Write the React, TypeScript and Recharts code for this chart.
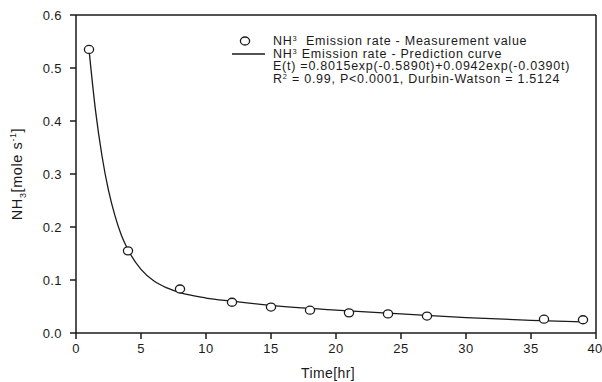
import {
  ComposedChart,
  Line,
  Scatter,
  XAxis,
  YAxis,
  ReferenceLine,
} from "recharts";

// measured emission rate (hr, mole/s)
const measTime = [1, 4, 8, 12, 15, 18, 21, 24, 27, 36, 39];
const measValue = [0.535, 0.155, 0.083, 0.058, 0.049, 0.043, 0.038, 0.036, 0.032, 0.026, 0.025];

// prediction curve
const curveTime = [1, 1.5, 2, 2.5, 3, 3.5, 4, 5, 6, 7, 8, 10, 12, 15, 20, 25, 30, 35, 39];
const curveValue = [
  0.535, 0.42, 0.334, 0.269, 0.221, 0.184, 0.157, 0.12, 0.098, 0.085, 0.076, 0.066, 0.06,
  0.052, 0.043, 0.036, 0.029, 0.024, 0.021,
];

const xTicks = [0, 5, 10, 15, 20, 25, 30, 35, 40];
const yTicks = [0, 0.1, 0.2, 0.3, 0.4, 0.5, 0.6];

const measData = measTime.map((t, i) => ({ t, e: measValue[i] }));
const curveData = curveTime.map((t, i) => ({ t, e: curveValue[i] }));

const FONT = "'Liberation Sans', Arial, sans-serif";
const INK = "#1a1a1a";

const OpenCircle = (props: any) => {
  const { cx, cy } = props;
  if (cx == null || cy == null) return null;
  return <ellipse cx={cx} cy={cy} rx={4.6} ry={4} fill="#fff" stroke={INK} strokeWidth={1.3} />;
};

const sup = { fontSize: 7.5, verticalAlign: "4px", lineHeight: 0 } as const;

// legend is plain html over the plot, no box around it
const LegendBox = () => (
  <div
    style={{
      position: "absolute",
      left: 229,
      top: 35,
      fontFamily: FONT,
      fontSize: 12.5,
      color: INK,
      lineHeight: "12.6px",
      letterSpacing: 0.75,
      whiteSpace: "pre",
    }}
  >
    <div style={{ display: "flex", alignItems: "center", height: 12.6 }}>
      <svg width={44} height={12}>
        <ellipse cx={16} cy={6} rx={4.6} ry={4} fill="#fff" stroke={INK} strokeWidth={1.3} />
      </svg>
      <span>
        NH<sup style={sup}>3</sup>  Emission rate - Measurement value
      </span>
    </div>
    <div style={{ display: "flex", alignItems: "center", height: 12.6 }}>
      <svg width={44} height={12}>
        <line x1={3} y1={6} x2={36} y2={6} stroke={INK} strokeWidth={1.3} />
      </svg>
      <span>
        NH<sup style={sup}>3</sup> Emission rate - Prediction curve
      </span>
    </div>
    <div style={{ paddingLeft: 44 }}>E(t) =0.8015exp(-0.5890t)+0.0942exp(-0.0390t)</div>
    <div style={{ paddingLeft: 44, marginTop: 0.6 }}>
      R<sup style={sup}>2</sup> = 0.99, P&lt;0.0001, Durbin-Watson = 1.5124
    </div>
  </div>
);

const YTitle = () => (
  <text
    transform="translate(22, 174) rotate(-90)"
    textAnchor="middle"
    fontFamily={FONT}
    fontSize={14.5}
    letterSpacing={0.6}
    fill={INK}
  >
    NH
    <tspan fontSize={9} dy={4}>3</tspan>
    <tspan dy={-4}>[mole s</tspan>
    <tspan fontSize={9} dy={-6}>-1</tspan>
    <tspan dy={6}>]</tspan>
  </text>
);

export default function App() {
  return (
    <div style={{ position: "absolute", left: 0, top: 0, width: 602, height: 382, background: "#fff" }}>
      <ComposedChart
        width={602}
        height={382}
        margin={{ top: 15, right: 6, bottom: 0, left: 0 }}
      >
        <XAxis
          dataKey="t"
          type="number"
          domain={[0, 40]}
          ticks={xTicks}
          allowDataOverflow
          height={49}
          stroke={INK}
          strokeWidth={1.5}
          tickSize={6}
          tickMargin={5}
          tick={{ fill: INK, fontSize: 13, fontFamily: FONT, letterSpacing: 0.4 }}
          label={{
            value: "Time[hr]",
            position: "insideBottom",
            offset: 4,
            dx: -8,
            fill: INK,
            fontSize: 14,
            fontFamily: FONT,
            letterSpacing: 0.4,
          }}
        />
        <YAxis
          dataKey="e"
          type="number"
          domain={[0, 0.6]}
          ticks={yTicks}
          allowDataOverflow
          width={76}
          stroke={INK}
          strokeWidth={1.5}
          tickSize={6}
          tickMargin={8}
          tickFormatter={(v: number) => v.toFixed(1)}
          tick={{ fill: INK, fontSize: 13, fontFamily: FONT, letterSpacing: 0.4 }}
          label={{ content: () => <YTitle /> }}
        />
        <ReferenceLine y={0.6} stroke={INK} strokeWidth={1.5} />
        <ReferenceLine x={40} stroke={INK} strokeWidth={1.5} />
        <Line
          data={curveData}
          dataKey="e"
          type="monotone"
          stroke={INK}
          strokeWidth={1.3}
          dot={false}
          isAnimationActive={false}
        />
        <Scatter
          data={measData}
          dataKey="e"
          shape={OpenCircle}
          isAnimationActive={false}
        />
      </ComposedChart>
      <LegendBox />
    </div>
  );
}
